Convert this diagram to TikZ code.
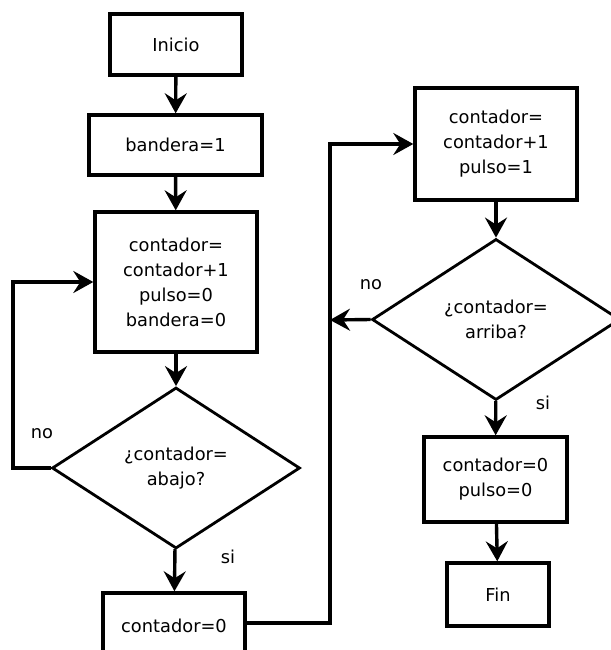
\documentclass[tikz,border=0pt]{standalone}
\usepackage{fontspec}
\setmainfont{DejaVu Sans}
\usetikzlibrary{shapes.geometric,arrows.meta}
\begin{document}
\begin{tikzpicture}[x=1pt,y=-1pt,
  every node/.style={font=\fontsize{17.8}{25}\selectfont},
  procbox/.style={draw,line width=3.4pt,rectangle,align=center,inner sep=0pt},
  decision/.style={draw,line width=2.8pt,diamond,align=center,inner sep=0pt},
  flow/.style={line width=3.4pt,-{Stealth[length=20pt,width=22pt,inset=7pt]}},
  lbl/.style={inner sep=0pt}]
\useasboundingbox (0,0) rectangle (610,650);

% left column
\node[procbox,minimum width=132,minimum height=61] (inicio) at (176,44.5) {Inicio};
\node[procbox,minimum width=173,minimum height=60] (band1) at (175.5,145) {bandera=1};
\node[procbox,minimum width=162,minimum height=140] (inc0) at (176,282) {contador=\\contador+1\\pulso=0\\bandera=0};
\node[decision,minimum width=248,minimum height=161] (abajo) at (176,468) {¿contador=\\abajo?};
\node[procbox,minimum width=142,minimum height=66] (reset0) at (174,626) {contador=0};

% right column
\node[procbox,minimum width=162,minimum height=112] (inc1) at (496,144) {contador=\\contador+1\\pulso=1};
\node[decision,minimum width=248,minimum height=161] (arriba) at (496,319.5) {¿contador=\\arriba?};
\node[procbox,minimum width=143,minimum height=85] (reset1) at (495.5,479.5) {contador=0\\pulso=0};
\node[procbox,minimum width=102,minimum height=63] (fin) at (498,594.5) {Fin};

% branch labels
\node[lbl] (no1) at (42,434) {no};
\node[lbl] (si1) at (228,557) {si};
\node[lbl] (no2) at (371,285) {no};
\node[lbl] (si2) at (543,403) {si};

\coordinate (loopL) at (13,468);
\coordinate (busR) at (330,623);
\coordinate (busIn) at (330,320);

% connectors
\draw[flow] (inicio) -- (band1);
\draw[flow] (band1) -- (inc0);
\draw[flow] (inc0) -- (abajo);
\draw[flow] (abajo) -- (reset0);
\draw[flow] (abajo.west) -- (loopL) |- (inc0.west);
\draw[flow] (reset0.east |- busR) -- (busR) |- (inc1.west);
\draw[flow] (inc1) -- (arriba);
\draw[flow] (arriba.west) -- (busIn);
\draw[flow] (arriba) -- (reset1);
\draw[flow] (reset1) -- (fin);
\end{tikzpicture}
\end{document}
